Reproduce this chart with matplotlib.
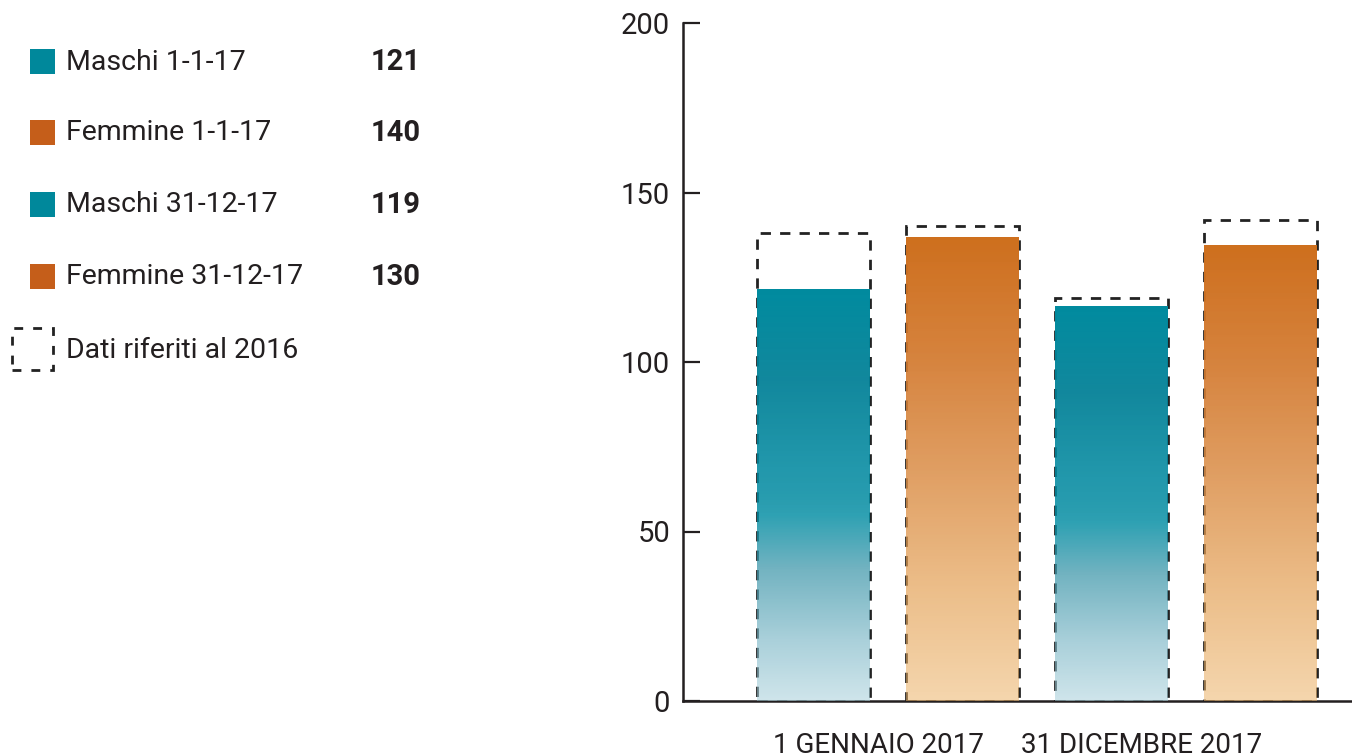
import numpy as np
import matplotlib
matplotlib.use('Agg')
import matplotlib.pyplot as plt
from matplotlib.patches import Rectangle
from matplotlib.colors import to_rgb

plt.rcParams['font.family'] = ['Roboto', 'DejaVu Sans']

# valori 2017 (altezza barre) e riferimento 2016 (riquadri tratteggiati)
serie = ['Maschi 1-1-17', 'Femmine 1-1-17', 'Maschi 31-12-17', 'Femmine 31-12-17']
valori_legenda = [121, 140, 119, 130]
valori_2017 = [121.5, 136.7, 116.4, 134.4]
valori_2016 = [138, 140, 119, 142]
gruppi = ['1 GENNAIO 2017', '31 DICEMBRE 2017']
yticks = [0, 50, 100, 150, 200]

TEAL = '#00889b'
ARANCIO = '#c55e1a'
colori_legenda = [TEAL, ARANCIO, TEAL, ARANCIO]

# sfumature verticali (frazione di altezza, colore)
grad_teal = [(0.0, '#cfe5eb'), (0.15, '#a9d0da'), (0.32, '#72b3c1'),
             (0.48, '#1f9db0'), (0.58, '#0597ab'), (0.78, '#00889d'), (1.0, '#008b9f')]
grad_arancio = [(0.0, '#f5d6ad'), (0.25, '#ecbd88'), (0.5, '#e09e62'),
                (0.75, '#d6823c'), (1.0, '#ce6f1d')]
gradienti = [grad_teal, grad_arancio, grad_teal, grad_arancio]


def sfumatura(stops, n=256):
    f = np.linspace(0, 1, n)
    pos = [s[0] for s in stops]
    rgb = np.array([to_rgb(s[1]) for s in stops])
    col = np.stack([np.interp(f, pos, rgb[:, k]) for k in range(3)], axis=1)
    # trasparenza crescente verso il basso, il tratteggio traspare
    a = np.interp(f, [0, 0.5, 1], [0.55, 0.85, 1.0])
    c = (col - (1 - a)[:, None]) / a[:, None]
    c = np.clip(c, 0, 1)
    img = np.concatenate([c, a[:, None]], axis=1)
    return img.reshape(n, 1, 4)


W, H = 1352, 756
fig = plt.figure(figsize=(W / 100, H / 100), dpi=100)
ax = fig.add_axes([682.5 / W, 1 - 701 / H, 1 - 682.5 / W, 678 / H])

x = np.arange(len(serie))
larg = 0.758
for i in x:
    ax.add_patch(Rectangle((i - larg / 2, 0), larg, valori_2016[i], fill=False,
                           ls=(0, (3.7, 3.3)), lw=2, edgecolor='#222222', zorder=2))
    ax.imshow(sfumatura(gradienti[i]), extent=(i - larg / 2, i + larg / 2, 0, valori_2017[i]),
              origin='lower', aspect='auto', interpolation='bilinear', zorder=3)

ax.set_xlim(-0.879, 3.614)
ax.set_ylim(0, 200)
ax.set_yticks(yticks)
ax.set_xticks([0.433, 2.205])
ax.set_xticklabels(gruppi)
ax.tick_params(axis='y', direction='in', length=12, width=1.6, pad=9,
               labelsize=21, colors='#231f20')
ax.tick_params(axis='x', length=0, pad=22, labelsize=20, colors='#231f20')
for s in ['top', 'right']:
    ax.spines[s].set_visible(False)
for s in ['left', 'bottom']:
    ax.spines[s].set_linewidth(1.8)
    ax.spines[s].set_color('#231f20')

# legenda a sinistra
righe_y = [61, 132, 204, 276]
for yy, nome, val, col in zip(righe_y, serie, valori_legenda, colori_legenda):
    fig.patches.append(Rectangle((30 / W, 1 - (yy + 12.5) / H), 25 / W, 25 / H,
                                 transform=fig.transFigure, facecolor=col, edgecolor='none'))
    fig.text(66 / W, 1 - (yy + 1) / H, nome, fontsize=20.5, color='#231f20', va='center')
    fig.text(421 / W, 1 - (yy + 1) / H, str(val), fontsize=21, fontweight='bold',
             color='#231f20', ha='right', va='center')

fig.patches.append(Rectangle((12 / W, 1 - 370 / H), 41 / W, 42 / H, transform=fig.transFigure,
                             fill=False, ls=(0, (3.2, 3.6)), lw=2, edgecolor='#222222'))
fig.text(66 / W, 1 - 350 / H, 'Dati riferiti al 2016', fontsize=20.5, color='#231f20',
         va='center')

fig.savefig('out.png', dpi=100)
